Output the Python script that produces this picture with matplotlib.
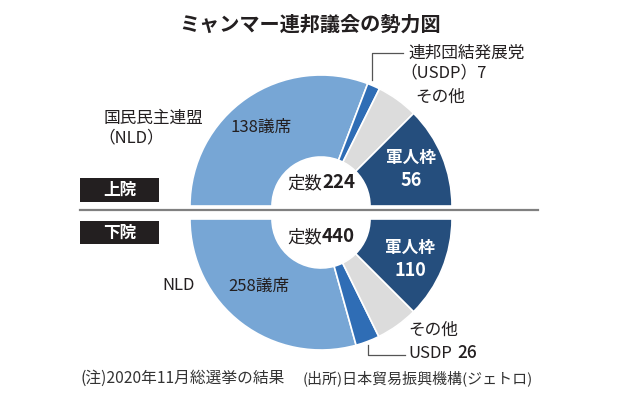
import matplotlib
matplotlib.use('Agg')
import matplotlib.pyplot as plt
from matplotlib.patches import Rectangle

plt.rcParams['font.family'] = ['Noto Sans CJK JP', 'DejaVu Sans']

# data
parties = ['NLD', 'USDP', 'その他', '軍人枠']
upper_seats = [138, 7, 23, 56]
lower_seats = [258, 26, 46, 110]
colors = ['#77a6d5', '#2f6db5', '#dcdcdc', '#254e7d']

W, H = 638, 398
TXT = '#231f20'


def py(y):
    # pixel row -> data y (data runs bottom-up)
    return H - y


fig = plt.figure(figsize=(W / 100, H / 100), dpi=100)
ax = fig.add_axes([0, 0, 1, 1])

cx, r_out, ring = 321, 131, 82
wp = dict(width=ring, edgecolor='white', linewidth=1.2)


def half_donut(seats, cy, counterclock, clip_rect):
    # a blank wedge as big as the total turns the pie into a half ring
    vals = list(seats) + [sum(seats)]
    wedges, _ = ax.pie(vals, colors=colors + ['none'], startangle=180,
                       counterclock=counterclock, radius=r_out,
                       center=(cx, py(cy)), wedgeprops=wp)
    wedges[-1].set_visible(False)
    clip = Rectangle(clip_rect[:2], clip_rect[2], clip_rect[3],
                     transform=ax.transData)
    for w in wedges:
        w.set_clip_path(clip)


half_donut(upper_seats, 206, False, (0, py(201), W, H))
half_donut(lower_seats, 219, True, (0, 0, W, py(221)))

ax.set_xlim(0, W)
ax.set_ylim(0, H)
ax.set_aspect('auto')
ax.axis('off')

# title
ax.text(310, py(24), 'ミャンマー連邦議会の勢力図', ha='center', va='center',
        fontsize=14.5, fontweight='bold', color=TXT)

# separator and house tags
ax.plot([80, 538], [py(210), py(210)], color='#808080', lw=1.6)
for y0, y1, name in [(178, 202, '上院'), (221, 244, '下院')]:
    ax.add_patch(Rectangle((80, py(y1)), 79, y1 - y0, facecolor=TXT, edgecolor='none'))
    ax.text(119.5, py((y0 + y1) / 2), name, ha='center', va='center',
            fontsize=12, fontweight='bold', color='white')

# totals in the holes
for yy, seats in [(183, upper_seats), (237, lower_seats)]:
    ax.text(322, py(yy), '定数', ha='right', va='center', fontsize=12.5, color=TXT)
    ax.text(322, py(yy), str(sum(seats)), ha='left', va='center', fontsize=13.5,
            fontweight='bold', color=TXT)

# upper labels
ax.text(104, py(118), '国民民主連盟', ha='left', va='center', fontsize=12, color=TXT)
ax.text(98, py(138), '（NLD）', ha='left', va='center', fontsize=12, color=TXT)
ax.text(230, py(127), f'{upper_seats[0]}議席', ha='left', va='center', fontsize=12, color=TXT)
ax.text(408, py(53), '連邦団結発展党', ha='left', va='center', fontsize=12, color=TXT)
ax.text(400, py(73), f'（USDP）{upper_seats[1]}', ha='left', va='center', fontsize=12, color=TXT)
ax.text(415, py(97), parties[2], ha='left', va='center', fontsize=12, color=TXT)
ax.text(411, py(158), parties[3], ha='center', va='center', fontsize=12,
        fontweight='bold', color='white')
ax.text(411, py(180), str(upper_seats[3]), ha='center', va='center', fontsize=13,
        fontweight='bold', color='white')
ax.plot([372, 372, 403], [py(80), py(53), py(53)], color='#555555', lw=0.9)

# lower labels
ax.text(162, py(286), parties[0], ha='left', va='center', fontsize=12, color=TXT)
ax.text(228, py(286), f'{lower_seats[0]}議席', ha='left', va='center', fontsize=12, color=TXT)
ax.text(410, py(248), parties[3], ha='center', va='center', fontsize=12,
        fontweight='bold', color='white')
ax.text(410, py(270), str(lower_seats[3]), ha='center', va='center', fontsize=13,
        fontweight='bold', color='white')
ax.text(408, py(330), parties[2], ha='left', va='center', fontsize=12, color=TXT)
ax.text(408, py(353), parties[1], ha='left', va='center', fontsize=12, color=TXT)
ax.text(457, py(353), str(lower_seats[1]), ha='left', va='center', fontsize=12.5,
        fontweight='medium', color=TXT)
ax.plot([368, 368, 405], [py(345), py(355), py(355)], color='#555555', lw=0.9)

# footer
ax.text(80, py(378), '(注)2020年11月総選挙の結果', ha='left', va='center', fontsize=11.3, color='#333333')
ax.text(303, py(378), '(出所)日本貿易振興機構(ジェトロ)', ha='left', va='center', fontsize=10.8, color='#333333')

fig.savefig('out.png', dpi=100)
